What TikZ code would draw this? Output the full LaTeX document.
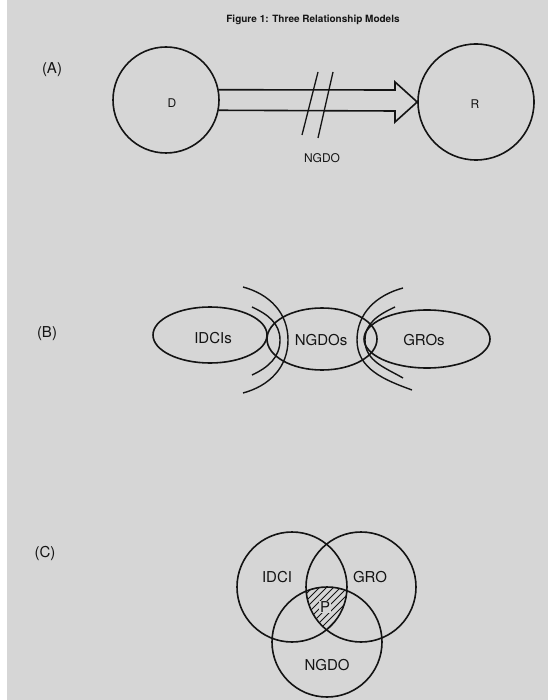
\documentclass[tikz,border=0pt]{standalone}
\usepackage{fontspec}
\setmainfont{TeX Gyre Heros}
\usetikzlibrary{shapes.geometric}
\definecolor{paper}{RGB}{214,214,214}
\definecolor{ink}{RGB}{20,20,20}
\begin{document}
\begin{tikzpicture}[x=1pt,y=-1pt,
  line width=1.6pt, draw=ink, text=ink,
  ring/.style={circle,draw=ink,line width=1.6pt,inner sep=0pt},
  oval/.style={ellipse,draw=ink,line width=1.6pt,inner sep=0pt},
  lbl/.style={font=\fontsize{12}{12}\selectfont,inner sep=0pt},
  big/.style={font=\fontsize{15}{15}\selectfont,inner sep=0pt},
  arcline/.style={draw=ink,line width=1.4pt},
  hatch/.style={draw=ink,line width=0.9pt}]
\fill[white] (0,0) rectangle (548,700);
\fill[paper] (7,0) rectangle (548,700);
\useasboundingbox (0,0) rectangle (548,700);

\node[font=\fontsize{10}{10}\selectfont\bfseries,inner sep=0pt] (title) at (313,20) {Figure 1: Three Relationship Models};

% (A)
\node[big] (la) at (52,70) {(A)};
\node[ring,minimum size=106pt] (D) at (166,100) {};
\node[ring,minimum size=116pt] (R) at (476,102) {};
\node[lbl] (dl) at (172,103) {D};
\node[lbl] (rl) at (475,104) {R};
\draw[line width=1.6pt,line join=miter] (D.11) -- (395,90) -- (395,82) -- (R.west) -- (395,122) -- (395,111) -- (D.-11);
\draw[line width=1.3pt] (318,72) -- (302,135);
\draw[line width=1.3pt] (333,72) -- (318,138);
\node[lbl] (ngdo) at (322,158) {NGDO};

% (B)
\node[big] (lb) at (47,334) {(B)};
\node[oval,minimum width=114pt,minimum height=56pt] (idcis) at (210,335) {};
\node[oval,minimum width=110pt,minimum height=62pt] (ngdos) at (322,339) {};
\node[oval,minimum width=126pt,minimum height=58pt] (gros) at (427,339) {};
\node[big] at (213,338) {IDCIs};
\node[big] at (321,340) {NGDOs};
\node[big] at (424,340) {GROs};
\coordinate (la1) at (243,287); \coordinate (la2) at (288,340); \coordinate (la3) at (243,393);
\coordinate (lb1) at (252,307); \coordinate (lb2) at (280,340); \coordinate (lb3) at (252,375);
\coordinate (ra1) at (403,288); \coordinate (ra2) at (357,340); \coordinate (ra3) at (412,390);
\coordinate (rb1) at (395,307); \coordinate (rb2) at (365,340); \coordinate (rb3) at (403,378);
\draw[arcline] (la1) to[out=-15,in=90] (la2) to[out=-90,in=15] (la3);
\draw[arcline] (lb1) to[out=-25,in=90] (lb2) to[out=-90,in=25] (lb3);
\draw[arcline] (ra1) to[out=195,in=90] (ra2) to[out=-90,in=160] (ra3);
\draw[arcline] (rb1) to[out=205,in=90] (rb2) to[out=-90,in=150] (rb3);

% (C)
\node[big] (lc) at (45,553) {(C)};
\begin{scope}
  \clip (292,587) circle[radius=55pt];
  \clip (361,587) circle[radius=55pt];
  \clip (327,642) circle[radius=55pt];
  \foreach \i in {0,...,26} {\draw[hatch] (240+7*\i,660) -- ++(90,-90);}
\end{scope}
\node[ring,minimum size=110pt] (idci) at (292,587) {};
\node[ring,minimum size=110pt] (gro) at (361,587) {};
\node[ring,minimum size=110pt] (ngdoc) at (327,642) {};
\node[big] at (277,577) {IDCI};
\node[big] at (370,577) {GRO};
\node[big] at (327,665) {NGDO};
\node[big,fill=paper,inner sep=1pt] at (325,607) {P};
\end{tikzpicture}
\end{document}
